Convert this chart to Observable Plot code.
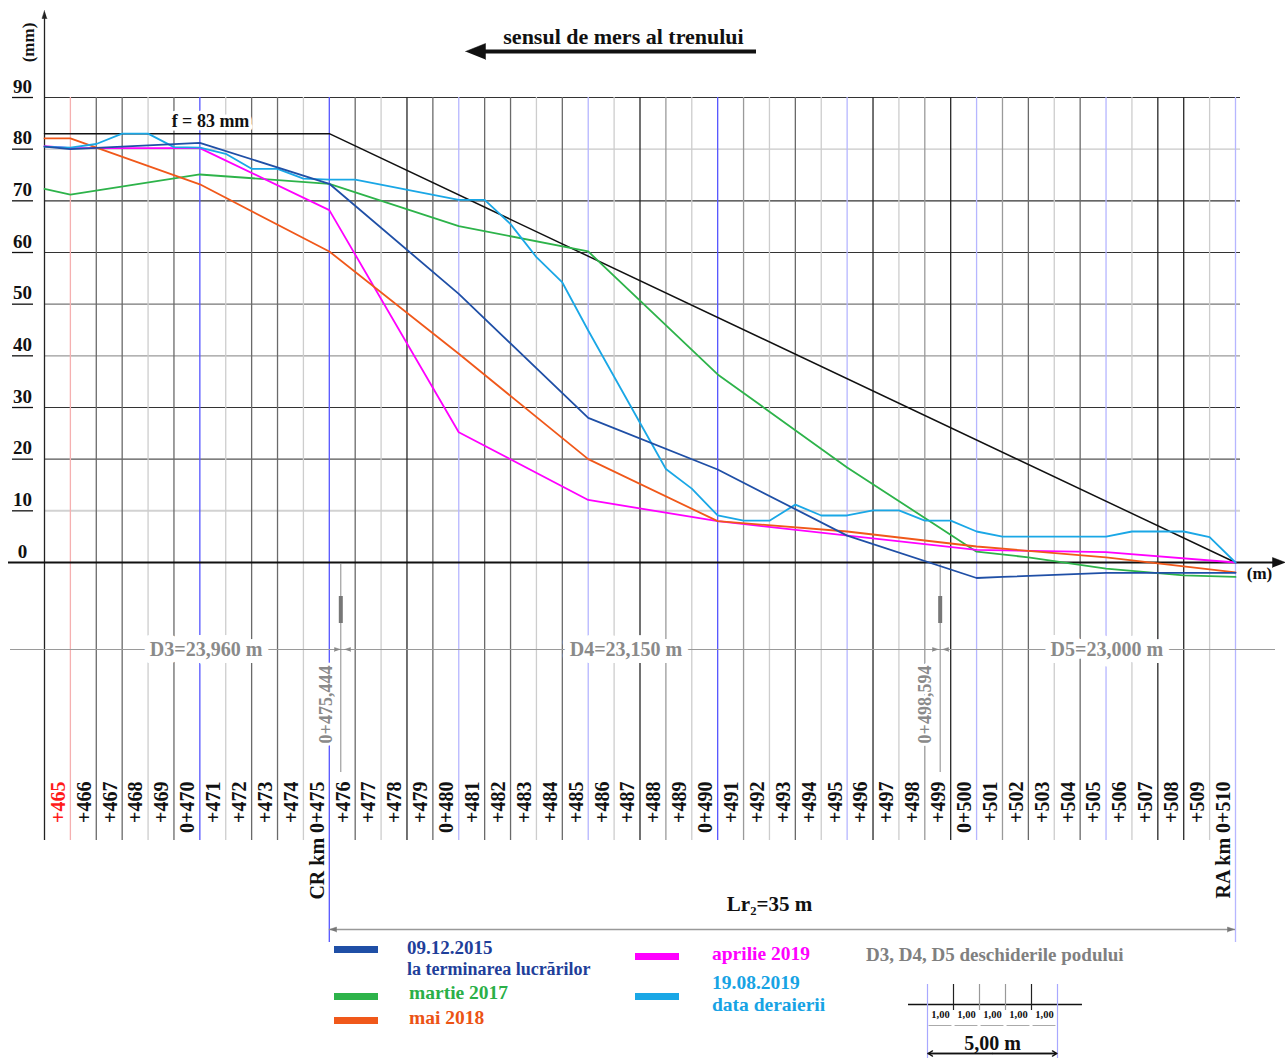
<!DOCTYPE html>
<html><head><meta charset="utf-8">
<script src="https://cdn.jsdelivr.net/npm/d3@7"></script>
<script src="https://cdn.jsdelivr.net/npm/@observablehq/plot@0.6"></script>
<style>
html,body{margin:0;padding:0;background:#fff;overflow:hidden;}
#wrap{position:relative;width:1285px;height:1058px;font-family:"Liberation Serif","Times New Roman",serif;font-weight:bold;}
.lt{position:absolute;white-space:nowrap;line-height:1;}
.sw{position:absolute;width:44px;height:7px;}
#scale{position:absolute;left:900px;top:978px;width:200px;height:82px;}
</style></head><body>
<div id="wrap"><div id="chart"></div><div id="legend"></div><div id="scale"></div></div>
<script>
// ---- data ----
const gridKm = d3.range(465, 511);
const gridStyle = ["r","d","d","l","d","b","l","d","d","l","b","d","l","k","d","lb","d","d","l","d","lb","l","k","g","l","b","g","l","d","l","lb","k","l","g","k","lb","g","d","l","d","lb","l","k","k","l","lb"];
const yTicks = [0,10,20,30,40,50,60,70,80,90];
const yGridStyle = {10:"#d2d2d2",20:"#555",30:"#333",40:"#9a9a9a",50:"#777",60:"#333",70:"#333",80:"#c8c8c8",90:"#333"};

const kmRef = [464, 475, 510];
const vRef  = [83, 83, 0];

const km2015 = [464,465,470,475,480,485,490,495,500,501,505,510];
const v2015  = [80.5,80,81.2,73.3,52,28,18,5.2,-3,-2.8,-2,-2];

const km2017 = [464,465,470,475,480,485,490,495,500,502,505,508,510];
const v2017  = [72.3,71.2,75.1,73.3,65.1,60.2,36.4,18.4,2.1,1.0,-1.2,-2.5,-2.8];

const km2018 = [464,465,470,475,480,485,490,495,500,505,510];
const v2018  = [82.1,82.1,73.2,60.2,40.4,20,8,6.0,3.1,1.0,-1.9];

const kmApr2019 = [464,465,470,475,480,485,490,500,505,510];
const vApr2019  = [80.6,80.2,80.2,68.2,25.2,12.1,8.0,2.45,2.0,0];

const kmAug2019 = [464,465,466,467,468,469,470,471,472,473,474,475,476,480,481,482,483,484,485,488,489,490,491,492,493,494,495,496,497,498,499,500,501,505,506,508,509,510];
const vAug2019  = [80.5,80.3,81,83,83,80.4,80.3,79.1,76.2,76.2,74.3,74.1,74.1,70.2,70.2,65.5,59.1,54.2,44.9,18.1,14.3,9.1,8.1,8.1,11.2,9.1,9.1,10.1,10.1,8.1,8.1,6.0,5.0,5.0,6.0,6.0,4.9,0];

const spanMarks = [475.444, 498.594];
const spanMarkLabels = ["0+475,444", "0+498,594"];
const spanLabels = ["D3=23,960 m", "D4=23,150 m", "D5=23,000 m"];
const spanLabelKm = [470.24, 486.46, 505.03];

// ---- styles ----
const C = {r:"#f5b0b0", d:"#6a6a6a", k:"#262626", g:"#9a9a9a", l:"#cdcdcd", b:"#5555ff", lb:"#b6b6ff"};
const col2015 = "#1f4fa6", col2017 = "#2db34a", col2018 = "#f0581a", colApr = "#ff00ff", colAug = "#1aa7e6";
const FONT = "'Liberation Serif','Times New Roman',serif";

// pixel helpers for annotations (inverse of the scale ranges below)
const X = px => 464 + (px - 44) * 46 / 1191;
const Y = py => (562 - py) * 90 / 465;
const tri = (tx, ty, dir, len, half) => {
  let p;
  if (dir === "left") p = [[tx,ty],[tx+len,ty-half],[tx+len,ty+half]];
  if (dir === "right") p = [[tx,ty],[tx-len,ty-half],[tx-len,ty+half]];
  if (dir === "up") p = [[tx,ty],[tx-half,ty+len],[tx+half,ty+len]];
  return p.map(([a,b]) => [X(a), Y(b)]);
};
const triMark = (pts, fill) => Plot.line(pts, {x: "0", y: "1", fill, stroke: fill, strokeWidth: 0.5});

const xLabel = m => m === 475 ? "CR km 0+475" : m === 510 ? "RA km 0+510" : (m % 10 === 0 ? "0+" + m : "+" + m);
const styleOf = m => gridStyle[m - 465];

const chart = Plot.plot({
  width: 1285, height: 946, margin: 0,
  x: {domain: [464, 510], range: [44, 1235], axis: null},
  y: {domain: [0, 90], range: [562, 97], axis: null},
  color: {type: "identity"},
  style: {fontFamily: FONT, background: "white", overflow: "visible"},
  marks: [
    // horizontal grid
    Plot.ruleY(yTicks.filter(v => v > 0), {y: d => d, x1: 464, x2: X(1240), stroke: d => yGridStyle[d], strokeWidth: d => d === 10 ? 2 : 1.2}),
    // vertical grid
    Plot.ruleX(gridKm, {x: d => d, y1: 90, y2: d => (d === 475 || d === 510) ? Y(942) : Y(840), stroke: d => C[styleOf(d)], strokeWidth: 1.3}),
    // y axis
    Plot.ruleX([464], {y1: Y(840), y2: Y(16), stroke: "#222", strokeWidth: 1.3}),
    triMark(tri(44, 10, "up", 8, 2.5), "#222"),
    // y tick underlines and labels
    Plot.ruleY(yTicks.filter(v => v > 0), {y: d => d, x1: X(12), x2: X(33), stroke: "#111", strokeWidth: 1.3}),
    Plot.text(yTicks, {x: 464, y: d => d, text: d => String(d), dx: -22, dy: -11, fontSize: 19, fontWeight: "bold", fill: "#111"}),
    Plot.text(["(mm)"], {x: X(28), y: Y(42), rotate: -90, fontSize: 17, fontWeight: "bold", fill: "#111"}),
    // x axis
    Plot.ruleY([0], {x1: X(8), x2: X(1276), stroke: "#111", strokeWidth: 2}),
    triMark(tri(1285, 562, "right", 13, 5), "#111"),
    Plot.text(["(m)"], {x: X(1259), y: Y(573), fontSize: 17, fontWeight: "bold", fill: "#111"}),
    // span dimension line & markers
    Plot.ruleY([Y(649)], {x1: X(10), x2: X(1275), stroke: "#9a9a9a", strokeWidth: 1.2}),
    Plot.ruleX(spanMarks, {x: d => d, y1: Y(563), y2: Y(772), stroke: "#8a8a8a", strokeWidth: 1}),
    Plot.ruleX(spanMarks, {x: d => d, y1: Y(596), y2: Y(623), stroke: "#777", strokeWidth: 4}),
    triMark(tri(340, 649, "right", 6, 2), "#888"),
    triMark(tri(344, 649, "left", 6, 2), "#888"),
    triMark(tri(938, 649, "right", 6, 2), "#888"),
    triMark(tri(942, 649, "left", 6, 2), "#888"),
    Plot.text(spanLabels, {x: (d, i) => spanLabelKm[i], y: Y(649), text: d => d, fontSize: 20, fontWeight: "bold", fill: "#8a8a8a", stroke: "white", strokeWidth: 14}),
    Plot.text(spanMarkLabels, {x: (d, i) => spanMarks[i], y: Y(704), text: d => d, rotate: -90, dx: -15, fontSize: 18, fontWeight: "bold", fill: "#8a8a8a", stroke: "white", strokeWidth: 6}),
    // x labels
    Plot.text(gridKm, {x: d => d, y: Y(781), text: xLabel, rotate: -90, textAnchor: "end", dx: -12, fontSize: 20, fontWeight: "bold", fill: d => d === 465 ? "#ff1a1a" : "#111"}),
    // Lr2
    Plot.ruleY([Y(929)], {x1: 475, x2: 510, stroke: "#999", strokeWidth: 1.3}),
    triMark(tri(329, 929, "left", 7, 2.5), "#777"),
    triMark(tri(1234, 929, "right", 7, 2.5), "#777"),
    Plot.text(["Lr₂=35 m"], {x: X(769), y: Y(904), fontSize: 21, fontWeight: "bold", fill: "#111"}),
    // reference line f = 83 mm
    Plot.line(d3.zip(kmRef, vRef), {x: "0", y: "1", stroke: "#111", strokeWidth: 1.5}),
    Plot.text(["f = 83 mm"], {x: X(210), y: Y(121), fontSize: 18, fontWeight: "bold", fill: "#111", stroke: "white", strokeWidth: 7}),
    // series
    Plot.line(d3.zip(km2017, v2017), {x: "0", y: "1", stroke: col2017, strokeWidth: 1.8}),
    Plot.line(d3.zip(kmApr2019, vApr2019), {x: "0", y: "1", stroke: colApr, strokeWidth: 1.8}),
    Plot.line(d3.zip(km2018, v2018), {x: "0", y: "1", stroke: col2018, strokeWidth: 1.8}),
    Plot.line(d3.zip(kmAug2019, vAug2019), {x: "0", y: "1", stroke: colAug, strokeWidth: 1.8}),
    Plot.line(d3.zip(km2015, v2015), {x: "0", y: "1", stroke: col2015, strokeWidth: 1.8}),
    // title & direction arrow
    Plot.text(["sensul de mers al trenului"], {x: X(623), y: Y(36), fontSize: 22, fontWeight: "bold", fill: "#111"}),
    Plot.ruleY([Y(51)], {x1: X(480), x2: X(756), stroke: "#111", strokeWidth: 4}),
    triMark(tri(465, 51, "left", 20, 8), "#111")
  ]
});
document.getElementById("chart").appendChild(chart);

// ---- legend (HTML, below/over the lower area) ----
const legendItems = [
  {sw: [334, 946], color: col2015, text: [["09.12.2015", 407, 948, 19], ["la terminarea lucrărilor", 407, 969, 18]], tc: "#1f3f9a"},
  {sw: [334, 993], color: col2017, text: [["martie 2017", 409, 993, 19.5]], tc: "#2aaf48"},
  {sw: [334, 1017], color: col2018, text: [["mai 2018", 409, 1018, 19.5]], tc: "#ec5314"},
  {sw: [635, 953], color: colApr, text: [["aprilie 2019", 712, 954, 19.5]], tc: "#ff00ff"},
  {sw: [635, 993], color: colAug, text: [["19.08.2019", 712, 983, 19.5], ["data deraierii", 712, 1005, 19.5]], tc: "#17a3e4"},
  {sw: null, color: null, text: [["D3, D4, D5 deschiderile podului", 866, 955, 19]], tc: "#808080"}
];
const leg = document.getElementById("legend");
for (const it of legendItems) {
  if (it.sw) {
    const s = document.createElement("div");
    s.className = "sw";
    s.style.left = it.sw[0] + "px"; s.style.top = it.sw[1] + "px"; s.style.background = it.color;
    leg.appendChild(s);
  }
  for (const [t, lx, cy, fs] of it.text) {
    const d = document.createElement("div");
    d.className = "lt";
    d.textContent = t;
    d.style.left = lx + "px"; d.style.top = (cy - fs * 0.52) + "px"; d.style.fontSize = fs + "px"; d.style.color = it.tc;
    leg.appendChild(d);
  }
}

// ---- scale bar (5 x 1,00 m) ----
const scaleSeg = [0,1,2,3,4];
const scaleLabels = ["1,00","1,00","1,00","1,00","1,00"];
const sb = Plot.plot({
  width: 200, height: 82, margin: 0,
  x: {domain: [0, 5], range: [27, 157], axis: null},
  y: {domain: [0, 82], range: [0, 82], axis: null},
  color: {type: "identity"},
  style: {fontFamily: FONT, background: "transparent", overflow: "visible"},
  marks: [
    Plot.ruleY([26], {x1: -0.73, x2: 5.96, stroke: "#111", strokeWidth: 1.5}),
    Plot.ruleX([0, 5], {y1: 6, y2: 80, stroke: "#a8a8ff", strokeWidth: 1.2}),
    Plot.ruleX([1, 2, 3, 4], {y1: 6, y2: 32, stroke: d => (d === 1 || d === 4) ? "#222" : "#999", strokeWidth: 1.2}),
    Plot.text(scaleSeg, {x: d => d + 0.5, y: 36, text: (d, i) => scaleLabels[i], fontSize: 10.5, fontWeight: "bold", fill: "#111"}),
    Plot.ruleY(scaleSeg, {x1: d => d + 0.06, x2: d => d + 0.94, y: 47, stroke: "#aaa", strokeWidth: 1}),
    Plot.text(["5,00 m"], {x: 2.5, y: 65, fontSize: 20, fontWeight: "bold", fill: "#111"}),
    Plot.ruleY([75], {x1: 0.02, x2: 4.98, stroke: "#111", strokeWidth: 1.3}),
    Plot.arrow([[2.5, 0.02], [2.5, 4.98]], {x1: "0", y1: () => 75, x2: "1", y2: () => 75, stroke: "#111", strokeWidth: 1.3, headLength: 6})
  ]
});
document.getElementById("scale").appendChild(sb);
</script>
</body></html>
